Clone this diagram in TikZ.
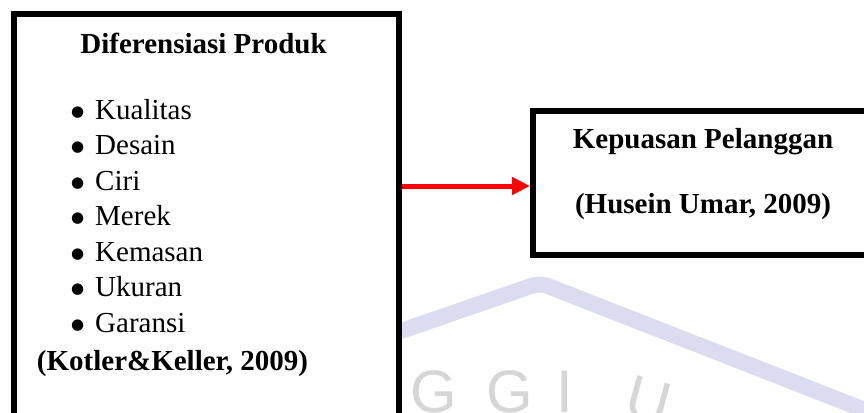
\documentclass[tikz,border=0pt]{standalone}
\usepackage{fontspec}
\setmainfont{Liberation Serif}
\newfontfamily\wmfont{Liberation Sans}
\newfontfamily\symfont{DejaVu Sans}
\usetikzlibrary{arrows.meta}
\definecolor{wmband}{RGB}{220,220,240}
\definecolor{wmtext}{RGB}{214,214,214}
\definecolor{arrred}{RGB}{255,0,0}
\tikzset{
  box/.style={draw=black, line width=6pt, fill=white, rectangle, inner sep=0pt},
  txt/.style={inner sep=0pt, anchor=base, font=\fontsize{29}{34}\selectfont},
  btxt/.style={txt, font=\fontsize{29}{34}\selectfont\bfseries},
  item/.style={txt, anchor=base west},
  bul/.style={inner sep=0pt, anchor=base west, font=\symfont\fontsize{15}{18}\selectfont},
  wm/.style={inner sep=0pt, anchor=base west, text=wmtext, font=\wmfont\fontsize{60}{66}\selectfont},
  arr/.style={draw=arrred, line width=5pt, -{Triangle[length=18pt,width=17pt]}}
}
\begin{document}
\begin{tikzpicture}[x=1pt,y=-1pt]
\useasboundingbox (0,0) rectangle (864,412);
\clip (0,0) rectangle (864,412);
\fill[white] (0,0) rectangle (864,412);
% watermark
\draw[wmband, line width=16pt, line join=round, rounded corners=8pt] (398,332) -- (540,283) -- (870,412);
\node[wm] (wg1) at (410,412) {G};
\node[wm] (wg2) at (486,412) {G};
\node[wm] (wi) at (556,412) {I};
\node[wm, rotate=-15] (wu) at (622,414) {U};
% boxes
\node[box, anchor=north west, minimum width=385pt, minimum height=440pt] (dp) at (11,11) {};
\node[box, anchor=north west, minimum width=360pt, minimum height=144pt] (kp) at (530,108) {};
% left box text
\node[btxt] (t1) at (203.5,53) {Diferensiasi Produk};
\node[bul] (b1) at (71,116) {●};
\node[item] (i1) at (95,119) {Kualitas};
\node[bul] (b2) at (71,151.5) {●};
\node[item] (i2) at (95,154.5) {Desain};
\node[bul] (b3) at (71,187) {●};
\node[item] (i3) at (95,190) {Ciri};
\node[bul] (b4) at (71,222.5) {●};
\node[item] (i4) at (95,225.5) {Merek};
\node[bul] (b5) at (71,258) {●};
\node[item] (i5) at (95,261) {Kemasan};
\node[bul] (b6) at (71,293.5) {●};
\node[item] (i6) at (95,296.5) {Ukuran};
\node[bul] (b7) at (71,329) {●};
\node[item] (i7) at (95,332) {Garansi};
\node[btxt] (src1) at (172.5,370) {(Kotler\&Keller, 2009)};
% right box text
\node[btxt] (t2) at (703,148) {Kepuasan Pelanggan};
\node[btxt] (src2) at (703,213) {(Husein Umar, 2009)};
% arrow
\coordinate (ay) at (0,186);
\draw[arr] (dp.east |- ay) -- (kp.west |- ay);
\end{tikzpicture}
\end{document}
